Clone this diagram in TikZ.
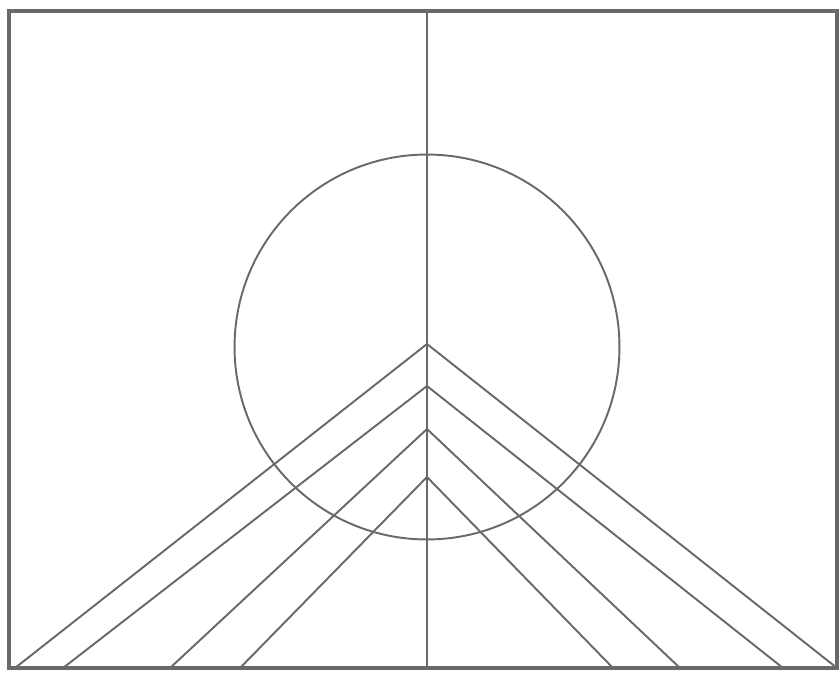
\documentclass[tikz,border=0pt]{standalone}
\usepackage{tikz}
\definecolor{pencil}{RGB}{105,105,105}

\begin{document}
\begin{tikzpicture}[
  x=0.02cm, y=-0.02cm,
  frame/.style={draw=pencil, line width=2.2pt},
  thin line/.style={draw=pencil, line width=1.1pt}
]
\useasboundingbox (0,0) rectangle (840,673);
\draw[frame] (9,11) rectangle (837,668);
% axis and circle
\coordinate (top) at (427,11);
\coordinate (bottom) at (427,668);
\coordinate (centre) at (427,347);
\draw[thin line] (centre) circle [radius=3.85cm];
\draw[thin line] (top) -- (bottom);
% chevrons: apex / left foot / right foot
\foreach \name/\ay/\lx/\rx in {one/344/15/837, two/386/63/783, three/429/170/680, four/477/240/613} {
  \coordinate (apex \name) at (427,\ay);
  \coordinate (left \name) at (\lx,668);
  \coordinate (right \name) at (\rx,668);
  \draw[thin line] (left \name) -- (apex \name) -- (right \name);
}
\end{tikzpicture}
\end{document}
